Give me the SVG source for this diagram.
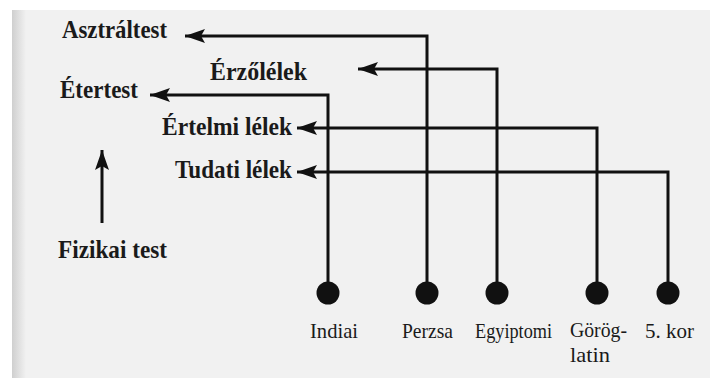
<svg xmlns="http://www.w3.org/2000/svg" width="710" height="383" viewBox="0 0 710 383">
<defs>
<linearGradient id="edge" x1="0" y1="0" x2="1" y2="0">
<stop offset="0" stop-color="#cfcfcf"/>
<stop offset="1" stop-color="#f1f1f1"/>
</linearGradient>
<marker id="ah" markerUnits="userSpaceOnUse" markerWidth="22" markerHeight="14" refX="20" refY="7" orient="auto">
<path d="M0,0 L20,7 L0,14 L4,7 Z" fill="#111"/>
</marker>
</defs>
<style>
.lbl{font-family:"Liberation Serif","Times New Roman",serif;font-weight:bold;font-size:25px;fill:#1a1a1a}
.era{font-family:"Liberation Serif","Times New Roman",serif;font-size:22px;fill:#1a1a1a}
.ln{fill:none;stroke:#111;stroke-width:3;stroke-linejoin:miter}
.dot{fill:#111}
</style>
<rect x="0" y="0" width="710" height="383" fill="#ffffff"/>
<rect x="12" y="10" width="698" height="368" fill="#f1f1f1"/>
<rect x="12" y="10" width="14" height="368" fill="url(#edge)"/>
<g id="asztraltest"><text class="lbl" x="62" y="38" textLength="105" lengthAdjust="spacingAndGlyphs">Asztráltest</text></g>
<g id="erzolelek"><text class="lbl" x="210" y="80" textLength="97" lengthAdjust="spacingAndGlyphs">Érzőlélek</text></g>
<g id="etertest"><text class="lbl" x="60" y="98" textLength="78" lengthAdjust="spacingAndGlyphs">Étertest</text></g>
<g id="ertelmi"><text class="lbl" x="162" y="135" textLength="130" lengthAdjust="spacingAndGlyphs">Értelmi lélek</text></g>
<g id="tudati"><text class="lbl" x="175" y="178" textLength="117" lengthAdjust="spacingAndGlyphs">Tudati lélek</text></g>
<g id="fizikai"><text class="lbl" x="58" y="258" textLength="109" lengthAdjust="spacingAndGlyphs">Fizikai test</text></g>
<g id="indiai"><circle class="dot" cx="328" cy="293" r="11.5"/><text class="era" x="310" y="338" textLength="48" lengthAdjust="spacingAndGlyphs">Indiai</text></g>
<g id="perzsa"><circle class="dot" cx="427" cy="293" r="11.5"/><text class="era" x="402" y="338" textLength="51" lengthAdjust="spacingAndGlyphs">Perzsa</text></g>
<g id="egyiptomi"><circle class="dot" cx="497" cy="293" r="11.5"/><text class="era" x="475" y="338" textLength="77" lengthAdjust="spacingAndGlyphs">Egyiptomi</text></g>
<g id="gorog"><circle class="dot" cx="597" cy="293" r="11.5"/><text class="era" x="570" y="337" textLength="57" lengthAdjust="spacingAndGlyphs">Görög-</text><text class="era" x="570" y="362" textLength="40" lengthAdjust="spacingAndGlyphs">latin</text></g>
<g id="kor5"><circle class="dot" cx="668" cy="293" r="11.5"/><text class="era" x="645" y="338" textLength="49" lengthAdjust="spacingAndGlyphs">5. kor</text></g>
<g id="connectors">
<polyline class="ln" points="427,283 427,36 185,36" marker-end="url(#ah)"/>
<polyline class="ln" points="328,283 328,95 150,95" marker-end="url(#ah)"/>
<polyline class="ln" points="497,283 497,69 358,69" marker-end="url(#ah)"/>
<polyline class="ln" points="597,283 597,128 297,128" marker-end="url(#ah)"/>
<polyline class="ln" points="668,283 668,172 297,172" marker-end="url(#ah)"/>
<line class="ln" x1="102" y1="223" x2="102" y2="150" marker-end="url(#ah)"/>
</g>
</svg>
